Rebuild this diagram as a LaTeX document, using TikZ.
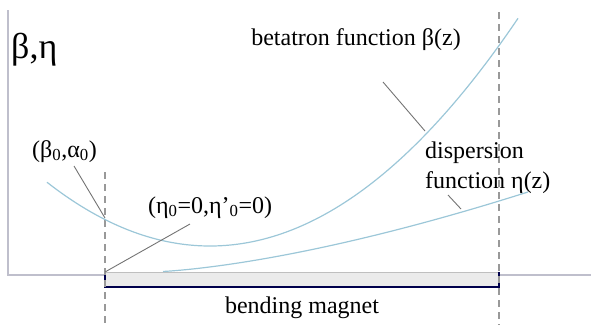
\documentclass[tikz,border=0pt]{standalone}
\usepackage{fontspec}
\setmainfont{Liberation Serif}
\begin{document}
\begin{tikzpicture}[x=1pt,y=-1pt,
  curve/.style={draw=cyan!30!teal!45!white, line width=1.2pt},
  leader/.style={draw=black!55, line width=0.9pt},
  guide/.style={draw=black!40, line width=1.3pt, dash pattern=on 7pt off 5pt},
  axisline/.style={draw=blue!20!black!25, line width=1.3pt},
  lbl/.style={font=\fontsize{24}{28}\selectfont, inner sep=0pt}]
\useasboundingbox (0,0) rectangle (591,325);
% axes
\draw[axisline] (8,10) -- (8,275) -- (105,275);
\draw[axisline] (499,275) -- (591,275);
% magnet
\coordinate (mTL) at (105,272);
\coordinate (mBR) at (499,287);
\fill[black!8] (mTL) rectangle (mBR);
\draw[black!25, line width=0.8pt] (mTL) -- (499,272);
\draw[blue!30!black, line width=1.6pt] (mTL) -- (105,287) -- (mBR) -- (499,272);
\draw[blue!30!black, line width=2.4pt] (105,287) -- (mBR);
% guides
\draw[guide] (105,172) -- (105,325);
\draw[guide] (499,12) -- (499,325);
% curves
\draw[curve] plot[domain=47:518, samples=80, smooth] (\x, {246-24*((\x-210)/100)^2});
\draw[curve] plot[domain=163:528, samples=60, smooth] (\x, {272-10.89*((\x-150)/100)^1.5});
% labels
\node[lbl, font=\fontsize{36}{40}\selectfont, anchor=base west] (axlab) at (11,58) {β,η};
\node[lbl, anchor=base] (beta) at (356,45) {betatron function β(z)};
\node[lbl, anchor=base west] (disp1) at (425,158) {dispersion};
\node[lbl, anchor=base west] (disp2) at (425,188) {function η(z)};
\node[lbl, anchor=base west] (b0) at (32,157) {(β\textsubscript{0},α\textsubscript{0})};
\node[lbl, anchor=base west] (e0) at (148,213) {(η\textsubscript{0}=0,η{\char"27}\textsubscript{0}=0)};
\node[lbl, anchor=base] (mag) at (302,313) {bending magnet};
% leaders
\coordinate (l1a) at (383,82); \coordinate (l1b) at (425,131);
\coordinate (l2a) at (448,195); \coordinate (l2b) at (461,209);
\coordinate (l3a) at (74,166); \coordinate (l3b) at (105,218);
\coordinate (l4a) at (190,224); \coordinate (l4b) at (105,272);
\draw[leader] (l1a) -- (l1b);
\draw[leader] (l2a) -- (l2b);
\draw[leader] (l3a) -- (l3b);
\draw[leader] (l4a) -- (l4b);
\end{tikzpicture}
\end{document}
